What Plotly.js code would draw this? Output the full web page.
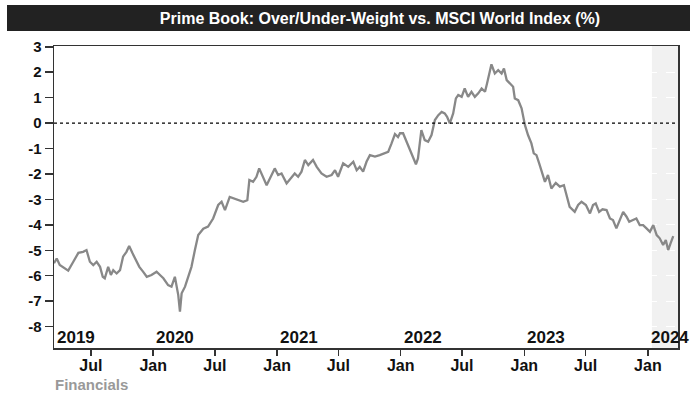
<!DOCTYPE html>
<html>
<head>
<meta charset="utf-8">
<script src="https://cdn.plot.ly/plotly-3.0.1.min.js"></script>
<style>html,body{margin:0;padding:0;background:#fff;}#chart{width:696px;height:397px;}</style>
</head>
<body>
<div id="chart"></div>
<script>
const dates = [
"2019-03-14","2019-03-22","2019-03-31","2019-04-14","2019-04-25","2019-05-10","2019-05-25","2019-06-08","2019-06-18","2019-06-28",
"2019-07-08","2019-07-18","2019-07-28","2019-08-05","2019-08-11","2019-08-21","2019-08-29","2019-09-05","2019-09-15","2019-09-25",
"2019-10-04","2019-10-14","2019-10-22","2019-11-01","2019-11-11","2019-11-21","2019-12-02","2019-12-13","2019-12-27","2020-01-11",
"2020-01-21","2020-01-31","2020-02-14","2020-02-24","2020-03-05","2020-03-10","2020-03-15","2020-03-20","2020-03-25","2020-04-04",
"2020-04-13","2020-04-23","2020-05-03","2020-05-13","2020-05-28","2020-06-11","2020-06-26","2020-07-11","2020-07-21","2020-07-31",
"2020-08-14","2020-08-29","2020-09-13","2020-09-23","2020-10-05","2020-10-11","2020-10-22","2020-11-01","2020-11-09","2020-11-19",
"2020-12-01","2020-12-11","2020-12-25","2021-01-04","2021-01-14","2021-01-29","2021-02-13","2021-02-22","2021-03-04","2021-03-14",
"2021-03-24","2021-04-03","2021-04-17","2021-04-28","2021-05-12","2021-05-27","2021-06-11","2021-06-21","2021-06-30","2021-07-15",
"2021-07-30","2021-08-14","2021-08-24","2021-09-02","2021-09-12","2021-09-22","2021-10-02","2021-10-17","2021-10-31","2021-11-15",
"2021-11-25","2021-12-05","2021-12-15","2021-12-24","2021-12-30","2022-01-08","2022-01-18","2022-01-28","2022-02-07","2022-02-15",
"2022-02-21","2022-03-03","2022-03-13","2022-03-23","2022-04-02","2022-04-12","2022-04-22","2022-05-02","2022-05-11","2022-05-18",
"2022-05-26","2022-06-05","2022-06-13","2022-06-20","2022-06-30","2022-07-09","2022-07-19","2022-07-29","2022-08-08","2022-08-18",
"2022-08-28","2022-09-07","2022-09-13","2022-09-21","2022-09-26","2022-10-06","2022-10-16","2022-10-26","2022-11-02","2022-11-10",
"2022-11-19","2022-11-29","2022-12-04","2022-12-14","2022-12-24","2022-12-29","2023-01-03","2023-01-12","2023-01-22","2023-01-29",
"2023-02-06","2023-02-14","2023-02-21","2023-03-03","2023-03-12","2023-03-22","2023-04-04","2023-04-16","2023-04-28","2023-05-06",
"2023-05-15","2023-05-30","2023-06-09","2023-06-19","2023-07-02","2023-07-14","2023-07-23","2023-07-31","2023-08-10","2023-08-20",
"2023-09-01","2023-09-11","2023-09-20","2023-09-30","2023-10-10","2023-10-20","2023-10-30","2023-11-07","2023-11-18","2023-11-28",
"2023-12-08","2023-12-18","2023-12-28","2024-01-07","2024-01-17","2024-01-27","2024-02-05","2024-02-15","2024-02-23","2024-03-01",
"2024-03-08","2024-03-16"
];
const weights = [
-5.51,-5.32,-5.58,-5.71,-5.80,-5.45,-5.10,-5.06,-4.99,-5.45,
-5.58,-5.45,-5.65,-6.04,-6.10,-5.65,-5.97,-5.78,-5.91,-5.78,
-5.25,-5.06,-4.83,-5.12,-5.38,-5.65,-5.84,-6.04,-5.97,-5.84,
-5.97,-6.10,-6.37,-6.43,-6.04,-6.37,-6.76,-7.41,-6.69,-6.43,
-6.04,-5.65,-5.00,-4.40,-4.15,-4.07,-3.75,-3.22,-3.09,-3.42,
-2.90,-2.96,-3.03,-3.09,-3.03,-2.24,-2.31,-2.11,-1.78,-2.11,
-2.44,-2.17,-1.78,-2.04,-1.98,-2.37,-2.11,-1.98,-2.11,-1.91,
-1.45,-1.65,-1.45,-1.72,-1.98,-2.11,-2.04,-1.85,-2.11,-1.58,
-1.72,-1.52,-1.85,-1.72,-1.91,-1.52,-1.26,-1.32,-1.26,-1.19,
-1.13,-0.80,-0.43,-0.55,-0.40,-0.40,-0.73,-0.99,-1.39,-1.62,
-1.39,-0.28,-0.67,-0.73,-0.47,0.12,0.31,0.44,0.38,0.25,
-0.01,0.38,0.97,1.10,1.03,1.36,1.03,1.23,1.03,1.17,
1.36,1.23,1.56,2.02,2.31,1.95,2.08,1.95,2.15,1.69,
1.56,1.43,0.97,0.90,0.58,0.25,-0.08,-0.47,-0.80,-1.19,
-1.26,-1.58,-1.85,-2.31,-2.04,-2.57,-2.35,-2.50,-2.44,-2.90,
-3.29,-3.49,-3.22,-3.09,-3.22,-3.55,-3.22,-3.16,-3.49,-3.39,
-3.42,-3.75,-3.81,-4.14,-3.81,-3.49,-3.68,-3.88,-3.81,-3.75,
-4.01,-4.01,-4.14,-4.27,-4.01,-4.40,-4.53,-4.79,-4.60,-4.99,
-4.73,-4.44
];
const yTicks = [3,2,1,0,-1,-2,-3,-4,-5,-6,-7,-8];
const yearLabels = ["2019","2020","2021","2022","2023","2024"];
const titleText = "Prime Book: Over/Under-Weight vs. MSCI World Index (%)";
const footText = "Financials";
const xRange = ["2019-03-14","2024-03-30"];
const shadeStart = "2024-01-13";

const W = 696, H = 397;
const M = {l:54, r:18, t:46, b:49};
const pw = W - M.l - M.r, ph = H - M.t - M.b;
const px = v => (v - M.l) / pw;
const py = v => (H - M.b - v) / ph;

const boldFont = {family:"Liberation Sans, Arial, sans-serif", weight:"bold", color:"#111"};

const annotations = yearLabels.map((y, i) => ({
  text: y,
  xref: i === 0 ? "paper" : "x",
  x: i === 0 ? 0 : y + "-01-01",
  xshift: 1,
  yref: "paper", y: py(337), yanchor: "middle",
  xanchor: "left", showarrow: false,
  font: Object.assign({}, boldFont, {size: 17})
}));
annotations.push({
  text: footText, xref: "paper", x: px(53), xanchor: "left",
  yref: "paper", y: py(384), yanchor: "middle", showarrow: false,
  font: {family:"Liberation Sans, Arial, sans-serif", weight:"bold", size:15, color:"#999"}
});

const shapes = [
  {type:"rect", xref:"paper", yref:"paper", x0:px(7), x1:px(690), y0:py(31), y1:py(5),
   fillcolor:"#222", line:{width:0}, layer:"below"},
  {type:"rect", xref:"x", yref:"paper", x0:shadeStart, x1:xRange[1], y0:0, y1:1,
   fillcolor:"#f1f1f1", line:{width:0}, layer:"below"},
  {type:"line", xref:"paper", yref:"y", x0:0, x1:1, y0:0, y1:0,
   line:{color:"#000", width:1.2, dash:"3px,3px"}, layer:"above"}
];

const trace = {
  x: dates, y: weights, type:"scatter", mode:"lines",
  line:{color:"#888", width:2.3}, hoverinfo:"skip"
};

const layout = {
  width: W, height: H,
  margin: M,
  paper_bgcolor:"#fff", plot_bgcolor:"rgba(0,0,0,0)",
  showlegend:false,
  title: {text: titleText, x: 380 / W, xanchor:"center",
          y: 1 - 18/H, yanchor:"middle", yref:"container",
          font:{family:"Liberation Sans Narrow, Arial Narrow, sans-serif", weight:"bold", size:16, color:"#fff"}},
  xaxis: {
    type:"date", range:xRange,
    tick0:"2019-01-01", dtick:"M6", tickformat:"%b",
    ticks:"outside", ticklen:6, tickcolor:"#333", tickwidth:1.5,
    ticklabelstandoff:-4,
    showline:true, linecolor:"#333", linewidth:1.5, mirror:true,
    showgrid:false, zeroline:false,
    tickfont:Object.assign({}, boldFont, {size:16})
  },
  yaxis: {
    range:[-8.84, 3.03], tickvals:yTicks, ticktext:yTicks.map(String),
    ticks:"outside", ticklen:8, tickcolor:"#333", tickwidth:1.5,
    showline:true, linecolor:"#333", linewidth:1.5, mirror:true,
    showgrid:true, gridcolor:"#fff", griddash:"dash", gridwidth:1,
    zeroline:false,
    tickfont:Object.assign({}, boldFont, {size:15})
  },
  annotations: annotations,
  shapes: shapes
};

Plotly.newPlot("chart", [trace], layout, {displayModeBar:false, staticPlot:true});
</script>
</body>
</html>
